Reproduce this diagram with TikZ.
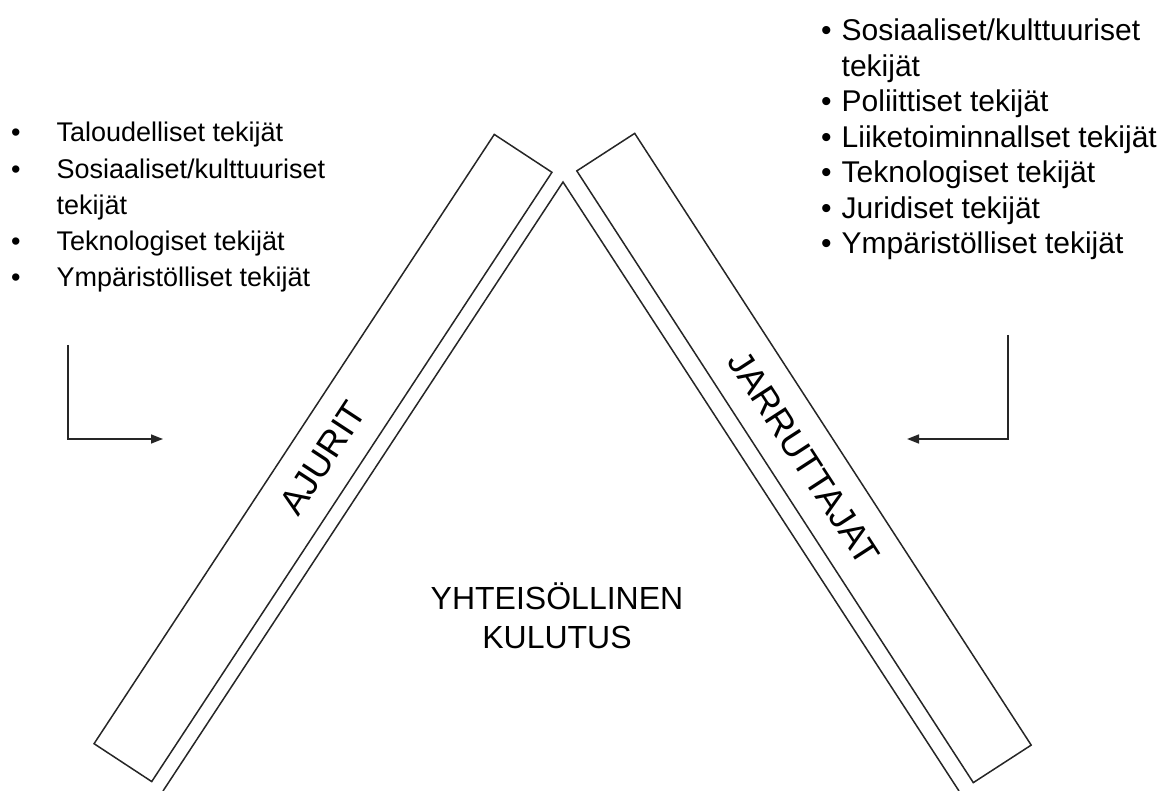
\documentclass[tikz,border=0pt]{standalone}
\usepackage{fontspec}
\setmainfont{Liberation Sans}
\usetikzlibrary{arrows.meta}

\begin{document}
\begin{tikzpicture}[x=1pt, y=-1pt,
        bar/.style={draw=black!85, line width=1.5pt, minimum width=729pt, minimum height=69pt, inner sep=0pt, font=\fontsize{36}{40}\selectfont},
        edge/.style={black!85, line width=1.5pt},
        arr/.style={black!85, line width=1.6pt, -{Triangle[length=12pt, width=9pt]}},
        lst/.style={anchor=base west, inner sep=0pt}]
        \useasboundingbox (0,0) rectangle (1165,791);
        % the two bars
        \node[bar, rotate=56.7] (ajurit) at (323,458) {AJURIT};
        \node[bar, rotate=-57.05] (jarrut) at (804,458) {JARRUTTAJAT};
        \coordinate (apex) at (563,182);
        \coordinate (leftfoot) at (163,791);
        \coordinate (rightfoot) at (959,791);
        \draw[edge] (leftfoot) -- (apex) -- (rightfoot);
        \node[font=\fontsize{32}{39}\selectfont, align=center] (kulutus) at (557,616) {YHTEISÖLLINEN\\KULUTUS};
        % lists
        \node[lst, font=\fontsize{27}{36.2}\selectfont] (ajurilista) at (11,142) {\begin{tabular}[t]{@{}l@{\hspace{36pt}}l@{}}
            \textbullet & Taloudelliset tekijät\\
            \textbullet & Sosiaaliset/kulttuuriset\\
                        & tekijät\\
            \textbullet & Teknologiset tekijät\\
            \textbullet & Ympäristölliset tekijät
        \end{tabular}};
        \node[lst, font=\fontsize{30}{35.5}\selectfont] (jarrulista) at (821,41) {\begin{tabular}[t]{@{}l@{\hspace{10pt}}l@{}}
            \textbullet & Sosiaaliset/kulttuuriset\\
                        & tekijät\\
            \textbullet & Poliittiset tekijät\\
            \textbullet & Liiketoiminnallset tekijät\\
            \textbullet & Teknologiset tekijät\\
            \textbullet & Juridiset tekijät\\
            \textbullet & Ympäristölliset tekijät
        \end{tabular}};
        % arrows
        \coordinate (drvtop) at (68,345);
        \coordinate (drvtip) at (163,439);
        \coordinate (brktop) at (1008,335);
        \coordinate (brktip) at (907,439);
        \draw[arr] (drvtop) |- (drvtip);
        \draw[arr] (brktop) |- (brktip);
    \end{tikzpicture}
\end{document}
